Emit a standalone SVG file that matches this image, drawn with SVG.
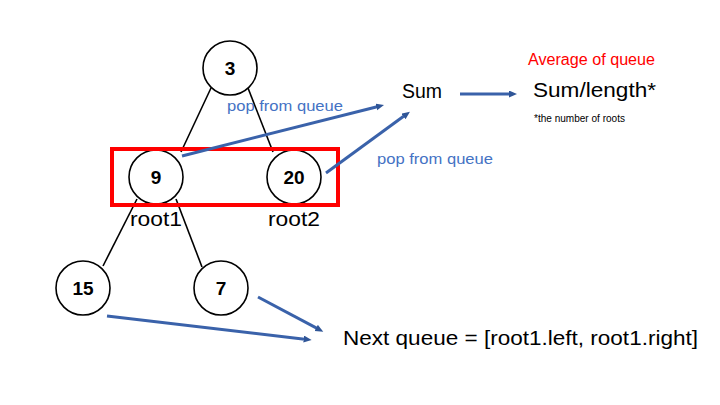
<svg xmlns="http://www.w3.org/2000/svg" width="720" height="405" viewBox="0 0 720 405">
<defs>
<style>
.node circle{fill:#fff;stroke:#000;stroke-width:1.6}
.node text{font-family:"Liberation Sans",Arial,sans-serif;font-weight:bold;font-size:19px;text-anchor:middle;fill:#000}
.edge{stroke:#000;stroke-width:1.6;fill:none}
.arrow{stroke:#3A62AA;stroke-width:3;fill:none;marker-end:url(#ah)}
.lbl{font-family:"Liberation Sans",Arial,sans-serif;fill:#000}
.blue{font-family:"Liberation Sans",Arial,sans-serif;fill:#4472C4;font-size:15.5px}
</style>
<marker id="ah" markerUnits="userSpaceOnUse" markerWidth="9" markerHeight="9" refX="1" refY="3.5" orient="auto">
<path d="M0,0 L8,3.5 L0,7 z" fill="#2F5597"/>
</marker>
</defs>
<rect width="720" height="405" fill="#fff"/>
<g id="tree-edges">
<line class="edge" x1="211" y1="88" x2="181" y2="152"/>
<line class="edge" x1="248" y1="88" x2="273" y2="152"/>
<line class="edge" x1="137" y1="199" x2="103" y2="266"/>
<line class="edge" x1="176" y1="199" x2="202" y2="267"/>
</g>
<g id="n3" class="node"><circle cx="230" cy="68" r="27"/><text x="230" y="75">3</text></g>
<g id="n9" class="node"><circle cx="156" cy="177" r="27"/><text x="156" y="184">9</text></g>
<g id="n20" class="node"><circle cx="294" cy="177" r="27"/><text x="294" y="184">20</text></g>
<g id="n15" class="node"><circle cx="83" cy="288" r="27"/><text x="83" y="295">15</text></g>
<g id="n7" class="node"><circle cx="221" cy="288" r="27"/><text x="221" y="295">7</text></g>
<g id="highlight"><rect x="112" y="149" width="226" height="56" fill="none" stroke="#FF0000" stroke-width="4"/></g>
<g id="root-labels">
<text class="lbl" x="130" y="226" font-size="20" textLength="52" lengthAdjust="spacingAndGlyphs">root1</text>
<text class="lbl" x="268" y="226" font-size="20" textLength="52" lengthAdjust="spacingAndGlyphs">root2</text>
</g>
<g id="connectors">
<line class="arrow" x1="182" y1="156" x2="377.2" y2="106.7"/>
<line class="arrow" x1="326" y1="173" x2="404.3" y2="115.8"/>
<line class="arrow" x1="460" y1="94" x2="510" y2="94"/>
<line class="arrow" x1="107" y1="316" x2="304.7" y2="339.2"/>
<line class="arrow" x1="258" y1="297" x2="317.1" y2="328.4"/>
</g>
<g id="pop1"><text class="blue" x="227" y="111" textLength="116" lengthAdjust="spacingAndGlyphs">pop from queue</text></g>
<g id="pop2"><text class="blue" x="377" y="164" textLength="116" lengthAdjust="spacingAndGlyphs">pop from queue</text></g>
<g id="sum"><text class="lbl" x="402" y="98" font-size="20" textLength="40" lengthAdjust="spacingAndGlyphs">Sum</text></g>
<g id="avg-title"><text x="528" y="65" font-family="Liberation Sans, Arial, sans-serif" font-size="16" fill="#FF0000" textLength="127" lengthAdjust="spacingAndGlyphs">Average of queue</text></g>
<g id="avg"><text class="lbl" x="533" y="97" font-size="21" textLength="123" lengthAdjust="spacingAndGlyphs">Sum/length*</text></g>
<g id="note"><text class="lbl" x="534" y="122" font-size="10" textLength="91" lengthAdjust="spacingAndGlyphs">*the number of roots</text></g>
<g id="next"><text class="lbl" x="343" y="345" font-size="20" textLength="355" lengthAdjust="spacingAndGlyphs">Next queue = [root1.left, root1.right]</text></g>
</svg>
